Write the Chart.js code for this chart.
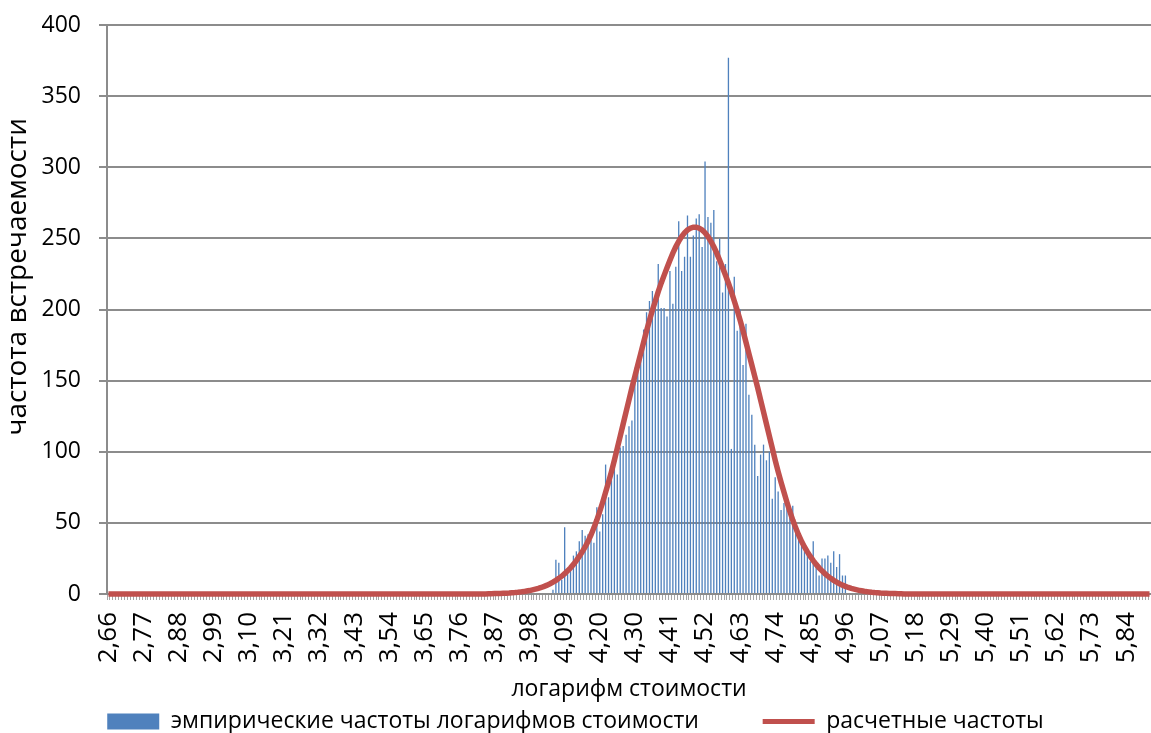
<!DOCTYPE html>
<html>
<head>
<meta charset="utf-8">
<script src="https://cdn.jsdelivr.net/npm/chart.js@4.4.1/dist/chart.umd.min.js"></script>
<style>
  html, body { margin: 0; padding: 0; background: #fff; }
  #wrap { width: 1151px; height: 733px; }
</style>
</head>
<body>
<div id="wrap"><canvas id="chart" width="1151" height="733"></canvas></div>
<script>
// categories: log of price, 357 bins starting at 2.66
const N_CATEGORIES = 357;
const FIRST_BIN = 2.66;
const BIN_STEP = 0.009138;
const categories = Array.from({ length: N_CATEGORIES }, (_, i) =>
  (FIRST_BIN + i * BIN_STEP).toFixed(2).replace('.', ','));

// every 12th category gets a label
const LABEL_EVERY = 12;
const tickLabels = ["2,66", "2,77", "2,88", "2,99", "3,10", "3,21", "3,32", "3,43", "3,54", "3,65",
  "3,76", "3,87", "3,98", "4,09", "4,20", "4,30", "4,41", "4,52", "4,63", "4,74",
  "4,85", "4,96", "5,07", "5,18", "5,29", "5,40", "5,51", "5,62", "5,73", "5,84"];

const seriesNames = ["эмпирические частоты логарифмов стоимости", "расчетные частоты"];

// empirical frequencies, first value sits in category 152
const empiricalStart = 152;
const empirical = [
  3, 24, 22, 10, 47, 14, 18, 27, 30, 37,
  45, 41, 42, 38, 36, 61, 44, 56, 91, 68,
  80, 96, 84, 103, 104, 112, 118, 122, 159, 162,
  174, 186, 198, 206, 213, 201, 232, 201, 201, 195,
  227, 204, 230, 262, 227, 237, 266, 237, 252, 264,
  267, 244, 304, 265, 261, 270, 234, 250, 212, 232,
  377, 102, 223, 185, 200, 161, 190, 140, 126, 105,
  83, 98, 105, 94, 100, 67, 82, 72, 59, 64,
  63, 56, 62, 49, 44, 39, 33, 28, 23, 37,
  22, 13, 25, 25, 27, 22, 30, 19, 28, 13,
  13
];

// fitted (normal) frequencies, first value sits in category 130; zero elsewhere
const fittedStart = 130;
const fitted = [
  0.1, 0.2, 0.3, 0.3, 0.4, 0.5, 0.6, 0.7, 0.9, 1, 1.2, 1.5, 1.7, 2.1, 2.4, 2.9, 3.4, 3.9, 4.6, 5.4,
  6.2, 7.2, 8.3, 9.6, 11, 12.5, 14.3, 16.3, 18.4, 20.8, 23.5, 26.4, 29.6, 33.1, 37, 41.5, 46.5, 52, 58, 64.5,
  71.5, 78.5, 86, 94, 102.5, 111, 119.5, 128, 136.5, 145, 153, 161, 169, 177, 185, 192.5, 199.5, 206, 212.5, 218.5,
  224, 229.3, 234.6, 239.6, 244.1, 247.9, 251.2, 253.9, 255.9, 257.2, 257.9,
  257.9, 257.2, 255.9, 253.9, 251.2, 247.9, 244.1, 239.6, 234.6, 229.3, 224, 218.5, 212.5, 206, 199.5, 192.5,
  185, 177, 169, 161, 153, 145, 136.5, 128, 119.5, 111, 102.5, 94, 86, 78.5, 71.5, 64.5, 58, 52, 46.5, 41.5,
  37, 33.1, 29.6, 26.4, 23.5, 20.8, 18.4, 16.3, 14.3, 12.5, 11, 9.6, 8.3, 7.2, 6.2, 5.4, 4.6, 3.9, 3.4, 2.9,
  2.4, 2.1, 1.7, 1.5, 1.2, 1, 0.9, 0.7, 0.6, 0.5, 0.4, 0.3, 0.3, 0.2, 0.1
];

const barData = categories.map((_, i) => {
  const v = empirical[i - empiricalStart];
  return v === undefined ? null : v;
});
const lineData = categories.map((_, i) => {
  const v = fitted[i - fittedStart];
  return v === undefined ? 0 : v;
});

const FONT = "'Open Sans', 'DejaVu Sans', sans-serif";
const BLUE = "#4f81bd";
const RED = "#c0504d";
const GRID = "#8c8c8c";

// keep tick labels from adding extra room around the plot
const noPadding = (scale) => {
  scale.paddingTop = 0;
  scale.paddingBottom = 0;
  scale.paddingLeft = 0;
  scale.paddingRight = 0;
};

new Chart(document.getElementById("chart"), {
  data: {
    labels: categories,
    datasets: [
      {
        type: "bar",
        label: seriesNames[0],
        data: barData,
        backgroundColor: BLUE,
        barPercentage: 0.45,
        categoryPercentage: 1.0,
        order: 1
      },
      {
        type: "line",
        label: seriesNames[1],
        data: lineData,
        borderColor: RED,
        borderWidth: 5.5,
        pointRadius: 0,
        tension: 0,
        fill: false,
        clip: false,
        order: 0
      }
    ]
  },
  options: {
    responsive: false,
    animation: false,
    events: [],
    layout: { padding: { top: 25, left: 0, right: 0, bottom: -10 } },
    plugins: {
      tooltip: { enabled: false },
      legend: {
        position: "bottom",
        labels: {
          usePointStyle: true,
          pointStyleWidth: 52,
          boxHeight: 16,
          padding: 10,
          color: "#000",
          font: { family: FONT, size: 23 },
          generateLabels: () => [
            { text: seriesNames[0] + "         ", fillStyle: BLUE, strokeStyle: BLUE, lineWidth: 0,
              pointStyle: "rect", datasetIndex: 0, hidden: false },
            { text: seriesNames[1], fillStyle: RED, strokeStyle: RED, lineWidth: 5,
              pointStyle: "line", datasetIndex: 1, hidden: false }
          ]
        }
      }
    },
    scales: {
      x: {
        offset: true,
        grid: { display: true, drawOnChartArea: false, offset: true, tickLength: 6, color: "#a6a6a6", lineWidth: 1 },
        border: { display: true, color: GRID, width: 2 },
        ticks: {
          autoSkip: false,
          minRotation: 90,
          maxRotation: 90,
          padding: 12,
          color: "#000",
          font: { family: FONT, size: 26 },
          callback: (v, i) => (i % LABEL_EVERY === 0 ? (tickLabels[i / LABEL_EVERY] || "") : "")
        },
        title: {
          display: true,
          text: "логарифм стоимости",
          color: "#000",
          font: { family: FONT, size: 23 },
          padding: { top: 0, bottom: -3 }
        },
        afterFit: (scale) => { scale.height = 106; noPadding(scale); }
      },
      y: {
        min: 0,
        max: 400,
        ticks: { stepSize: 50, padding: 18, color: "#000", font: { family: FONT, size: 23 } },
        grid: { color: GRID, lineWidth: 2, tickLength: 8 },
        border: { color: GRID, width: 2 },
        title: {
          display: true,
          // leading spaces lift the title the way the original sits above centre
          text: "         частота встречаемости",
          color: "#000",
          font: { family: FONT, size: 28 },
          padding: { top: 1, bottom: 0 }
        },
        afterFit: (scale) => { scale.width = 107; noPadding(scale); }
      }
    }
  }
});
</script>
</body>
</html>
